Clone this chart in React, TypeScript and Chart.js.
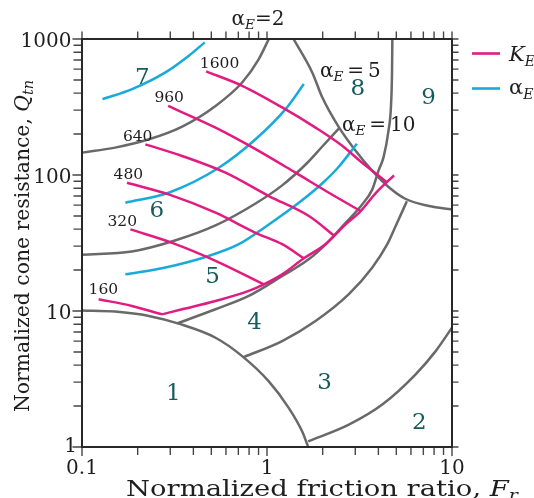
import React, { useEffect, useRef } from 'react';
import { Chart, registerables } from 'chart.js';

Chart.register(...registerables);

type Pt = [number, number];

// ---------- axes ----------
const xMajorTicks = [0.1, 1, 10];
const xMajorLabels = ['0.1', '1', '10'];
const yMajorTicks = [1, 10, 100, 1000];
const yMajorLabels = ['1', '10', '100', '1000'];

// ---------- soil behaviour type zone boundaries (gray) ----------
const zone1Boundary: Pt[] = [[0.1, 10.1], [0.151, 9.9], [0.23, 9.2], [0.333, 8.07], [0.527, 6.36], [0.734, 4.66], [1.02, 3.05], [1.31, 1.94], [1.55, 1.3], [1.67, 1.0]];
const zone2Boundary: Pt[] = [[1.67, 1.1], [2.77, 1.46], [4.2, 2.05], [6.36, 3.42], [8.16, 5.07], [10, 7.54]];
const zone3Boundary: Pt[] = [[0.749, 4.58], [1.208, 6.01], [1.83, 8.44], [2.77, 13.3], [3.71, 20.9], [4.47, 31.0], [4.96, 42.1], [5.7, 64]];
const zone4Boundary: Pt[] = [[0.327, 8.11], [0.527, 10.3], [0.797, 12.9], [1.21, 18.1], [1.68, 24.0], [2.07, 30.8], [2.66, 44.5], [3.27, 60.8], [3.71, 78.4], [4.01, 108], [4.27, 136], [4.54, 213], [4.68, 322], [4.74, 568], [4.76, 1000]];
const zone5Boundary: Pt[] = [[0.1, 25.9], [0.186, 27.4], [0.318, 33.0], [0.527, 42.6], [0.863, 61.5], [1.208, 83.9], [1.643, 122], [1.99, 162], [2.45, 220]];
const zone6Boundary: Pt[] = [[0.1, 146], [0.151, 159], [0.23, 183], [0.348, 227], [0.527, 322], [0.734, 479], [0.903, 712], [1.023, 1000]];
const zone8Boundary: Pt[] = [[1.391, 1000], [1.756, 568], [1.98, 378], [2.44, 226], [3.0, 152], [3.69, 108], [4.54, 81.6], [5.59, 66.9], [7.51, 59.1], [10, 55.8]];

// ---------- K_E contours (magenta) ----------
const ke1600: Pt[] = [[0.469, 578], [0.734, 453], [1.208, 314], [1.83, 223], [2.55, 164], [3.27, 123], [3.86, 103], [4.47, 87.8]];
const ke960: Pt[] = [[0.292, 322], [0.527, 223], [0.867, 155], [1.426, 104], [2.16, 74.1], [3.21, 54.3]];
const ke640: Pt[] = [[0.22, 168], [0.3475, 138], [0.5965, 104], [1.023, 70], [1.684, 49.9], [2.3, 36.0]];
const ke480: Pt[] = [[0.175, 87.8], [0.294, 72.0], [0.527, 52.8], [0.867, 37.6], [1.208, 31.0], [1.582, 24.4]];
const ke320: Pt[] = [[0.1826, 39.8], [0.307, 31.7], [0.527, 23.4], [0.961, 15.7]];
const ke160: Pt[] = [[0.123, 12.2], [0.186, 10.9], [0.271, 9.45]];
const keLimit: Pt[] = [[0.271, 9.45], [0.3475, 10.29], [0.527, 11.85], [0.797, 14.05], [0.961, 15.7], [1.208, 18.6], [1.582, 24.4], [2.07, 31.0], [2.66, 43.3], [3.21, 54.3], [3.86, 73.3], [4.86, 99.4]];

// ---------- alpha_E contours (blue) ----------
const ae1: Pt[] = [[0.129, 361], [0.1865, 428], [0.2825, 568], [0.378, 754], [0.461, 945]];
const ae2: Pt[] = [[0.1715, 62.5], [0.294, 74.1], [0.549, 113], [0.867, 183], [1.26, 305], [1.582, 466]];
const ae3: Pt[] = [[0.1715, 18.6], [0.2825, 20.9], [0.484, 25.4], [0.704, 31.0], [1.023, 43.3], [1.486, 62.5], [1.98, 86.3], [2.437, 114.5], [3.06, 170]];

// ---------- annotations ----------
const keLabels = ['1600', '960', '640', '480', '320', '160'];
const keLabelX = [0.554, 0.296, 0.2, 0.178, 0.165, 0.1305];
const keLabelY = [677, 378, 195, 103, 46.6, 14.7];

const zoneNames = ['1', '2', '3', '4', '5', '6', '7', '8', '9'];
const zoneLabelX = [0.312, 6.66, 2.05, 0.856, 0.508, 0.254, 0.212, 3.1, 7.48];
const zoneLabelY = [2.57, 1.565, 3.09, 8.44, 18.6, 56.2, 539, 443, 384];

const alphaLabelValues = ['2', '5', '10'];
const alphaLabelX = [0.643, 1.932, 2.54];
const alphaLabelY = [1275, 528, 211];

const GRAY = 'rgb(105,105,105)';
const MAGENTA = 'rgb(226,27,128)';
const BLUE = 'rgb(24,170,220)';
const TEAL = 'rgb(22,92,92)';
const TEXT = 'rgb(30,30,30)';
const FONT = '"DejaVu Serif", serif';

type Run = { t: string; size: number; italic?: boolean; dy?: number };

function runWidth(ctx: CanvasRenderingContext2D, runs: Run[]) {
  let w = 0;
  for (const r of runs) {
    ctx.font = `${r.italic ? 'italic ' : ''}${r.size}px ${FONT}`;
    w += ctx.measureText(r.t).width;
  }
  return w;
}

function drawRuns(ctx: CanvasRenderingContext2D, runs: Run[], x: number, y: number, align: 'left' | 'center' | 'right' = 'left') {
  const total = runWidth(ctx, runs);
  let cx = align === 'left' ? x : align === 'center' ? x - total / 2 : x - total;
  ctx.textAlign = 'left';
  ctx.textBaseline = 'alphabetic';
  for (const r of runs) {
    ctx.font = `${r.italic ? 'italic ' : ''}${r.size}px ${FONT}`;
    ctx.fillText(r.t, cx, y + (r.dy || 0));
    cx += ctx.measureText(r.t).width;
  }
}

// draw runs starting at (x, y) scaled horizontally to a given width
function drawFitted(ctx: CanvasRenderingContext2D, runs: Run[], x: number, y: number, width: number) {
  const w = runWidth(ctx, runs);
  ctx.save();
  ctx.translate(x, y);
  ctx.scale(width / w, 1);
  drawRuns(ctx, runs, 0, 0, 'left');
  ctx.restore();
}

const decor = {
  id: 'decor',
  afterDraw(chart: any) {
    const ctx: CanvasRenderingContext2D = chart.ctx;
    const xs = chart.scales.x;
    const ys = chart.scales.y;
    const { left, right, top, bottom } = chart.chartArea;
    ctx.save();

    // tick marks
    ctx.strokeStyle = 'rgb(70,70,70)';
    ctx.lineWidth = 1.4;
    const xTicks: number[] = [];
    for (const d of [0.1, 1]) for (let k = 1; k <= 9; k++) xTicks.push(d * k);
    xTicks.push(10);
    const yTicks: number[] = [];
    for (const d of [1, 10, 100]) for (let k = 1; k <= 9; k++) yTicks.push(d * k);
    yTicks.push(1000);
    ctx.beginPath();
    for (const v of xTicks) {
      const px = xs.getPixelForValue(v);
      const major = xMajorTicks.some((m) => Math.abs(m - v) < 1e-9);
      ctx.moveTo(px, bottom);
      ctx.lineTo(px, bottom + (major ? 9 : 8));
      ctx.moveTo(px, top);
      ctx.lineTo(px, top - 7.5);
    }
    for (const v of yTicks) {
      const py = ys.getPixelForValue(v);
      const major = yMajorTicks.some((m) => Math.abs(m - v) < 1e-9);
      ctx.moveTo(left, py);
      ctx.lineTo(left - (major ? 9.5 : 8.5), py);
      ctx.moveTo(right, py);
      ctx.lineTo(right + 6.5, py);
    }
    ctx.stroke();

    // frame
    ctx.strokeStyle = 'rgb(40,40,40)';
    ctx.lineWidth = 2;
    ctx.strokeRect(left, top, right - left, bottom - top);

    // tick labels
    ctx.fillStyle = TEXT;
    xMajorTicks.forEach((v, i) => {
      drawRuns(ctx, [{ t: xMajorLabels[i], size: 20 }], xs.getPixelForValue(v), 474, 'center');
    });
    yMajorTicks.forEach((v, i) => {
      const py = ys.getPixelForValue(v);
      const isOne = v === 1;
      drawRuns(ctx, [{ t: yMajorLabels[i], size: 20 }], isOne ? 77 : 71.5, isOne ? py + 5 : py + 7.5, 'right');
    });

    // axis titles
    drawFitted(ctx, [
      { t: 'Normalized friction ratio, ', size: 21.5 },
      { t: 'F', size: 21.5, italic: true },
      { t: 'r', size: 15, italic: true, dy: 4 },
    ], 126, 496, 392);
    ctx.save();
    ctx.translate(29, 412);
    ctx.rotate(-Math.PI / 2);
    drawFitted(ctx, [
      { t: 'Normalized cone resistance, ', size: 20.5 },
      { t: 'Q', size: 20.5, italic: true },
      { t: 'tn', size: 14.5, italic: true, dy: 4 },
    ], 0, 0, 332);
    ctx.restore();

    // K_E labels
    ctx.fillStyle = TEXT;
    keLabels.forEach((t, i) => {
      drawRuns(ctx, [{ t, size: 15.5 }], xs.getPixelForValue(keLabelX[i]), ys.getPixelForValue(keLabelY[i]) + 5.5, 'center');
    });

    // zone numbers
    ctx.fillStyle = TEAL;
    zoneNames.forEach((t, i) => {
      drawRuns(ctx, [{ t, size: 23 }], xs.getPixelForValue(zoneLabelX[i]), ys.getPixelForValue(zoneLabelY[i]) + 8.3, 'center');
    });

    // alpha_E labels
    ctx.fillStyle = TEXT;
    alphaLabelValues.forEach((t, i) => {
      const s = 20;
      drawRuns(ctx, [
        { t: 'α', size: s },
        { t: 'E', size: s * 0.68, italic: true, dy: s * 0.22 },
        { t: i === 0 ? '=' : '\u2009=\u2009', size: s },
        { t, size: s },
      ], xs.getPixelForValue(alphaLabelX[i]), ys.getPixelForValue(alphaLabelY[i]), 'left');
    });

    // legend
    const lx0 = right + 20;
    const lx1 = right + 48;
    ctx.lineWidth = 2.6;
    ctx.strokeStyle = MAGENTA;
    ctx.beginPath();
    ctx.moveTo(lx0, 53.5);
    ctx.lineTo(lx1, 53.5);
    ctx.stroke();
    ctx.strokeStyle = BLUE;
    ctx.beginPath();
    ctx.moveTo(lx0, 88.5);
    ctx.lineTo(lx1, 88.5);
    ctx.stroke();
    ctx.fillStyle = TEXT;
    drawRuns(ctx, [{ t: 'K', size: 21, italic: true }, { t: 'E', size: 14, italic: true, dy: 5 }], right + 57, 61, 'left');
    drawRuns(ctx, [{ t: 'α', size: 21 }, { t: 'E', size: 14, italic: true, dy: 5 }], right + 57, 94, 'left');

    ctx.restore();
  },
};

export default function App() {
  const ref = useRef<HTMLCanvasElement>(null);
  useEffect(() => {
    const canvas = ref.current;
    if (!canvas) return;
    const mk = (d: Pt[], color: string, order: number) => ({
      data: d.map(([x, y]) => ({ x, y })),
      borderColor: color,
      backgroundColor: color,
      borderWidth: 2.5,
      showLine: true,
      pointRadius: 0,
      pointHoverRadius: 0,
      cubicInterpolationMode: 'monotone',
      fill: false,
      order,
    });
    const datasets = [
      ...[ke1600, ke960, ke640, ke480, ke320, ke160, keLimit].map((d) => mk(d, MAGENTA, 0)),
      ...[ae1, ae2, ae3].map((d) => mk(d, BLUE, 1)),
      ...[zone1Boundary, zone2Boundary, zone3Boundary, zone4Boundary, zone5Boundary, zone6Boundary, zone8Boundary].map((d) => mk(d, GRAY, 2)),
    ];
    const chart = new Chart(canvas, {
      type: 'scatter',
      data: { datasets },
      options: {
        animation: false,
        responsive: false,
        devicePixelRatio: 1,
        events: [],
        layout: { padding: { left: 0, right: 82, top: 39, bottom: 0 } },
        plugins: { legend: { display: false }, tooltip: { enabled: false } },
        scales: {
          x: {
            type: 'logarithmic',
            min: 0.1,
            max: 10,
            ticks: { display: false },
            grid: { display: false },
            border: { display: false },
            afterFit: (s: any) => { s.height = 51; },
          },
          y: {
            type: 'logarithmic',
            min: 1,
            max: 1000,
            ticks: { display: false },
            grid: { display: false },
            border: { display: false },
            afterFit: (s: any) => { s.width = 82; },
          },
        },
      } as any,
      plugins: [decor],
    });
    return () => chart.destroy();
  }, []);
  return (
    <div style={{ position: 'absolute', left: 0, top: 0, width: 534, height: 498, background: '#fff' }}>
      <canvas ref={ref} width={534} height={498} style={{ display: 'block' }} />
    </div>
  );
}
